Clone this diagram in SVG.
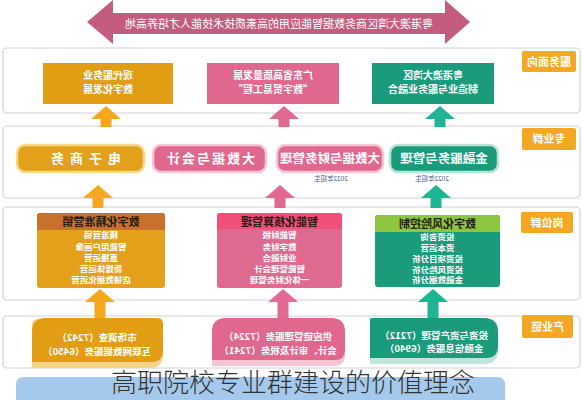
<svg xmlns="http://www.w3.org/2000/svg" width="583" height="400" viewBox="0 0 583 400">
<style>
text{font-family:"Noto Sans CJK SC","Noto Sans",sans-serif;text-anchor:middle}
.panel{fill:#fff;stroke:#d2d2d2;stroke-width:1.2}
.tab{fill:#f5a623}
.tabt{fill:#fff;font-size:11px;font-weight:bold}
.w{fill:#fff;font-weight:bold}
.t1{font-size:10px}
.t2{font-size:12.5px}
.t3{font-size:8.5px}
.t4{font-size:9.5px}
.hd{font-size:11px;font-weight:bold;fill:#2a1d12}
.note{font-size:6.5px;fill:#4b5d8a}
.or{fill:#e19d14}
.pk{fill:#e0678e}
.gr{fill:#1a9b7b}
</style>
<g id="banner">
<path d="M87,22 L113,0 L113,13 L445,13 L445,0 L470,22 L445,44 L445,34 L113,34 L113,44 Z" fill="#c45c7e"/>
<text class="w" style="font-size:11px;font-weight:normal" transform="scale(-1 1)" x="-279" y="28">粤港澳大湾区商务数据智能应用的高素质技术技能人才培养高地</text>
</g>
<g id="panel-service">
<rect class="panel" x="3" y="48" width="577" height="65" rx="4"/>
<rect class="tab" x="522" y="51" width="54" height="21" rx="2"/>
<text class="tabt" transform="scale(-1 1)" x="-549" y="65.5">服务面向</text>
</g>
<g id="panel-major">
<rect class="panel" x="3" y="126" width="577" height="72" rx="4"/>
<rect class="tab" x="522" y="128" width="54" height="22" rx="2"/>
<text class="tabt" transform="scale(-1 1)" x="-549" y="143">专业群</text>
</g>
<g id="panel-post">
<rect class="panel" x="3" y="207" width="577" height="93" rx="4"/>
<rect class="tab" x="521" y="212" width="52" height="21" rx="2"/>
<text class="tabt" transform="scale(-1 1)" x="-547" y="226.5">岗位群</text>
</g>
<g id="panel-industry">
<rect class="panel" x="3" y="316" width="577" height="52" rx="4"/>
<rect class="tab" x="522" y="315" width="51" height="23" rx="2"/>
<text class="tabt" transform="scale(-1 1)" x="-547.5" y="330.5">产业链</text>
</g>
<g id="connectors">
<polygon fill="#f5a81c" points="106,106 121,119 111.5,119 111.5,127 100.5,127 100.5,119 91,119"/>
<polygon fill="#e26a92" points="284,106 299,119 289.5,119 289.5,127 278.5,127 278.5,119 269,119"/>
<polygon fill="#1fb594" points="440,106 455,119 445.5,119 445.5,127 434.5,127 434.5,119 425,119"/>
<polygon fill="#f5a81c" points="98,185 113,198 103.5,198 103.5,208 92.5,208 92.5,198 83,198"/>
<polygon fill="#e26a92" points="280,185 295,198 285.5,198 285.5,208 274.5,208 274.5,198 265,198"/>
<polygon fill="#1fb594" points="436,185 451,198 441.5,198 441.5,208 430.5,208 430.5,198 421,198"/>
<polygon fill="#f5a81c" points="100,289 115,302 105.5,302 105.5,318 94.5,318 94.5,302 85,302"/>
<polygon fill="#e26a92" points="283,289 298,302 288.5,302 288.5,318 277.5,318 277.5,302 268,302"/>
<polygon fill="#1fb594" points="433,289 448,302 438.5,302 438.5,318 427.5,318 427.5,302 418,302"/>
</g>
<g id="svc-orange">
<rect class="or" x="43" y="63" width="130" height="41"/>
<text class="w t1" transform="scale(-1 1)" x="-108" y="79">现代服务业</text>
<text class="w t1" transform="scale(-1 1)" x="-108" y="93">数字化发展</text>
</g>
<g id="svc-pink">
<rect class="pk" x="207" y="63" width="132" height="41"/>
<text class="w t1" transform="scale(-1 1)" x="-273" y="79">广东省高质量发展</text>
<text class="w t1" transform="scale(-1 1)" x="-273" y="93">“数字贸易工程”</text>
</g>
<g id="svc-green">
<rect class="gr" x="372" y="63" width="122" height="41"/>
<text class="w t1" transform="scale(-1 1)" x="-433" y="79">粤港澳大湾区</text>
<text class="w t1" transform="scale(-1 1)" x="-433" y="93">制造业与服务业融合</text>
</g>
<g id="major-ecommerce">
<rect x="17" y="145" width="127" height="27" rx="8" fill="#e3a01b" stroke="#f8d98a" stroke-width="2.5"/>
<text class="w" style="font-size:13px;letter-spacing:6px" transform="scale(-1 1)" x="-83" y="163">电子商务</text>
</g>
<g id="major-accounting">
<rect x="153" y="145" width="113" height="27" rx="8" fill="#e0678e" stroke="#f7c6d6" stroke-width="2.5"/>
<text class="w" style="font-size:13px;letter-spacing:2px" transform="scale(-1 1)" x="-210" y="163">大数据与会计</text>
</g>
<g id="major-finance-mgmt">
<rect x="277" y="145" width="106" height="27" rx="8" fill="#e0678e" stroke="#f7c6d6" stroke-width="2.5"/>
<text class="w t2" transform="scale(-1 1)" x="-330" y="163">大数据与财务管理</text>
<text class="note" transform="scale(-1 1)" x="-331" y="180.5">2022年招生</text>
</g>
<g id="major-financial-service">
<rect x="390" y="145" width="108" height="27" rx="8" fill="#1a9b7b" stroke="#b8e3d6" stroke-width="2.5"/>
<text class="w t2" transform="scale(-1 1)" x="-444" y="163">金融服务与管理</text>
<text class="note" transform="scale(-1 1)" x="-432" y="180.5">2022年招生</text>
</g>
<g id="post-marketing">
<rect x="37" y="213" width="128" height="75" rx="3" fill="#e3a01b"/>
<path d="M37,230 V216 Q37,213 40,213 H162 Q165,213 165,216 V230 Z" fill="#c8702c"/>
<text class="hd" transform="scale(-1 1)" x="-101" y="226">数字化精准营销</text>
<text class="w t3" transform="scale(-1 1)" x="-101" y="238">精准营销</text>
<text class="w t3" transform="scale(-1 1)" x="-101" y="250">智能用户画像</text>
<text class="w t3" transform="scale(-1 1)" x="-101" y="261">直播运营</text>
<text class="w t3" transform="scale(-1 1)" x="-101" y="272">新媒体运营</text>
<text class="w t3" transform="scale(-1 1)" x="-101" y="283">店铺数据化运营</text>
</g>
<g id="post-accounting">
<rect x="217" y="213" width="125" height="75" rx="3" fill="#df6a90"/>
<path d="M217,229 V216 Q217,213 220,213 H339 Q342,213 342,216 V229 Z" fill="#f04f7c"/>
<text class="hd" transform="scale(-1 1)" x="-279.5" y="225.5">智能化核算管理</text>
<text class="w t3" transform="scale(-1 1)" x="-279.5" y="238">智能财税</text>
<text class="w t3" transform="scale(-1 1)" x="-279.5" y="250">数字财务</text>
<text class="w t3" transform="scale(-1 1)" x="-279.5" y="261">业财融合</text>
<text class="w t3" transform="scale(-1 1)" x="-279.5" y="272">智能管理会计</text>
<text class="w t3" transform="scale(-1 1)" x="-279.5" y="283">一体化财务管理</text>
</g>
<g id="post-risk">
<rect x="375" y="215" width="125" height="72" rx="3" fill="#1a9b7b"/>
<path d="M375,232 V218 Q375,215 378,215 H497 Q500,215 500,218 V232 Z" fill="#8dc641"/>
<text class="hd" transform="scale(-1 1)" x="-437.5" y="228">数字化风险控制</text>
<text class="w t3" transform="scale(-1 1)" x="-437.5" y="240">投资咨询</text>
<text class="w t3" transform="scale(-1 1)" x="-437.5" y="251">资本运营</text>
<text class="w t3" transform="scale(-1 1)" x="-437.5" y="262">投资项目分析</text>
<text class="w t3" transform="scale(-1 1)" x="-437.5" y="272.5">投资风险分析</text>
<text class="w t3" transform="scale(-1 1)" x="-437.5" y="283">金融数据分析</text>
</g>
<g id="ind-orange">
<path d="M32,324 Q32,318 46,318 H157 Q163,318 163,324 V355 Q163,368 150,368 H32 Z" fill="#f6d38a"/>
<path d="M32,332 Q32,318 46,318 H157 Q163,318 163,324 V350 Q163,362 151,362 H32 Z" fill="#e19d14"/>
<text class="w t4" transform="scale(-1 1)" x="-97" y="341">市场调查（7242）</text>
<text class="w t4" transform="scale(-1 1)" x="-97" y="355">互联网数据服务（6450）</text>
</g>
<g id="ind-pink">
<path d="M212,332 Q212,318 226,318 H331 Q345,318 345,332 V355 Q345,366 334,366 H212 Z" fill="#f4c4d2"/>
<path d="M212,332 Q212,318 226,318 H331 Q345,318 345,332 V350 Q345,360 335,360 H212 Z" fill="#e0678e"/>
<text class="w t4" transform="scale(-1 1)" x="-278" y="340">供应链管理服务（7224）</text>
<text class="w t4" transform="scale(-1 1)" x="-278" y="354">会计、审计及税务（7241）</text>
</g>
<g id="ind-green">
<path d="M370,320 Q370,318 372,318 H484 Q498,318 498,332 V350 Q498,364 484,364 H370 Z" fill="#bfe6da"/>
<path d="M370,320 Q370,318 372,318 H484 Q498,318 498,332 V346 Q498,358 486,358 H370 Z" fill="#1a9b7b"/>
<text class="w t4" transform="scale(-1 1)" x="-434" y="339">投资与资产管理（7212）</text>
<text class="w t4" transform="scale(-1 1)" x="-434" y="352">金融信息服务（6940）</text>
</g>
<g id="footer">
<path d="M16,400 V385 Q16,377 24,377 H497 Q505,377 505,385 V400 Z" fill="#a4c9ec"/>
<text x="293" y="392" style="font-size:26px;fill:#333;font-weight:300">高职院校专业群建设的价值理念</text>
</g>
</svg>
